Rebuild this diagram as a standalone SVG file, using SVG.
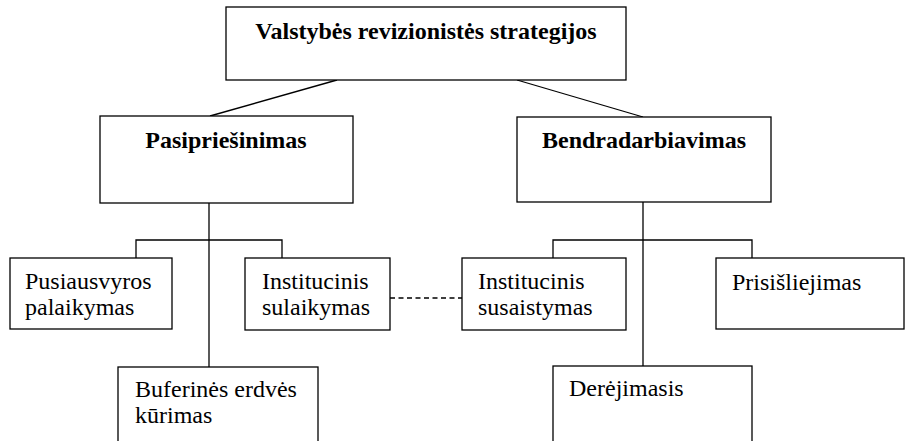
<svg xmlns="http://www.w3.org/2000/svg" width="907" height="441" viewBox="0 0 907 441">
<style>
.box{fill:#fff;stroke:#000;stroke-width:1.3}
.ln{fill:none;stroke:#000;stroke-width:1.3}
.dash{fill:none;stroke:#000;stroke-width:1.3;stroke-dasharray:5 3.5}
text{font-family:'Liberation Serif','Times New Roman',Times,'DejaVu Serif',serif;font-size:24px;fill:#000}
.b{font-weight:bold}
</style>
<rect width="907" height="441" fill="#fff"/>
<g id="connectors">
<line class="ln" x1="337" y1="80" x2="210" y2="116"/>
<line class="ln" x1="517" y1="80" x2="643" y2="117"/>
<line class="ln" x1="209" y1="203" x2="209" y2="367"/>
<polyline class="ln" points="136,258 136,240 282,240 282,258"/>
<line class="ln" x1="643" y1="202" x2="643" y2="366"/>
<polyline class="ln" points="553,258 553,240 752,240 752,258"/>
<line class="dash" x1="390" y1="298" x2="462" y2="298"/>
</g>
<g id="root">
<rect class="box" x="226" y="7" width="400" height="73"/>
<text class="b" x="426" y="39" text-anchor="middle">Valstybės revizionistės strategijos</text>
</g>
<g id="pasipriesinimas">
<rect class="box" x="100" y="116" width="253" height="87"/>
<text class="b" x="226" y="148" text-anchor="middle">Pasipriešinimas</text>
</g>
<g id="bendradarbiavimas">
<rect class="box" x="517" y="117" width="254" height="85"/>
<text class="b" x="644" y="148" text-anchor="middle">Bendradarbiavimas</text>
</g>
<g id="pusiausvyros">
<rect class="box" x="10" y="258" width="162" height="71"/>
<text x="25" y="289">Pusiausvyros</text>
<text x="25" y="315">palaikymas</text>
</g>
<g id="inst-sulaikymas">
<rect class="box" x="245" y="258" width="145" height="72"/>
<text x="262" y="289">Institucinis</text>
<text x="262" y="315">sulaikymas</text>
</g>
<g id="inst-susaistymas">
<rect class="box" x="462" y="258" width="164" height="72"/>
<text x="478" y="289">Institucinis</text>
<text x="478" y="315">susaistymas</text>
</g>
<g id="prisisliejimas">
<rect class="box" x="716" y="258" width="188" height="71"/>
<text x="732" y="290">Prisišliejimas</text>
</g>
<g id="buferines">
<rect class="box" x="118" y="367" width="200" height="90"/>
<text x="135" y="397">Buferinės erdvės</text>
<text x="135" y="423">kūrimas</text>
</g>
<g id="derejimasis">
<rect class="box" x="553" y="366" width="199" height="90"/>
<text x="569" y="396">Derėjimasis</text>
</g>
</svg>
